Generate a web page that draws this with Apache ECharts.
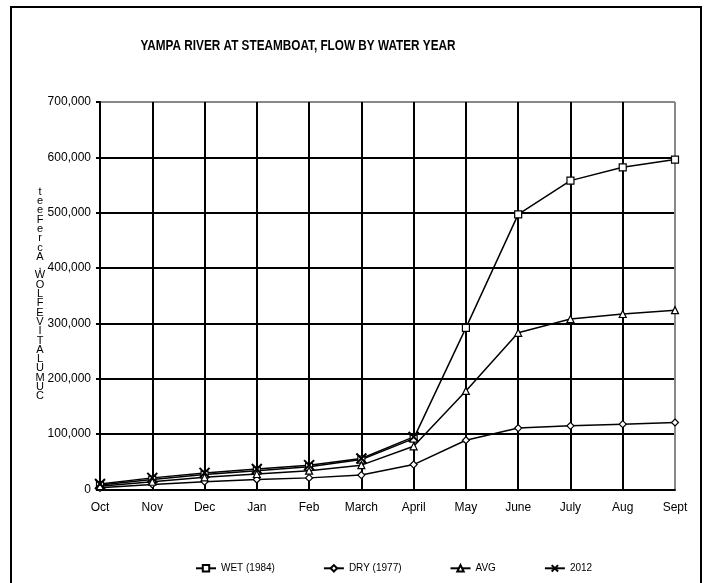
<!DOCTYPE html>
<html><head><meta charset="utf-8">
<script src="https://cdn.jsdelivr.net/npm/echarts@6/dist/echarts.min.js"></script>
<style>html,body{margin:0;padding:0;background:#fff}#c{width:710px;height:583px}</style>
</head><body><div id="c"></div>
<script>
const categories = ['Oct','Nov','Dec','Jan','Feb','March','April','May','June','July','Aug','Sept'];
const wet1984 = [8000,18000,27000,34000,41000,54000,92000,292000,497000,558000,582000,596000];
const dry1977 = [3000,9000,14000,18000,21000,26000,45000,89000,111000,115000,118000,121000];
const avg = [6000,14000,22000,28000,34000,44000,78000,178000,283000,308000,317000,324000];
const y2012 = [10000,21000,30000,37000,44000,56000,95000];
const yTicks = [0,100000,200000,300000,400000,500000,600000,700000];
const titleText = 'YAMPA RIVER AT STEAMBOAT, FLOW BY WATER YEAR';
const yTitle = 'CUMULATIVE FLOW, Acre Feet';

const chart = echarts.init(document.getElementById('c'));
const font = '"Liberation Sans", Arial, sans-serif';
const lineBase = {type:'line', symbolSize:7, lineStyle:{color:'#000', width:1.5},
  itemStyle:{color:'#fff', borderColor:'#000', borderWidth:1.2}, animation:false};
const fmt = v => v === 0 ? '0' : v.toLocaleString('en-US');
const ySplitColors = yTicks.map((v,i)=> i===yTicks.length-1 ? '#888' : '#000');
const xSplitColors = categories.map((c,i)=> i===categories.length-1 ? '#888' : '#000');

chart.setOption({
  backgroundColor:'#fff',
  animation:false,
  grid:{left:100, right:35, top:102, bottom:93.5},
  legend:{bottom:4, left:190, itemGap:48, itemWidth:20, itemHeight:8,
    textStyle:{fontFamily:font, fontSize:10, color:'#000'},
    data:['WET (1984)','DRY (1977)','AVG','2012']},
  xAxis:{type:'category', data:categories, boundaryGap:false,
    axisLine:{lineStyle:{color:'#000', width:2}},
    axisTick:{show:false},
    axisLabel:{color:'#000', fontFamily:font, fontSize:12, margin:12},
    splitLine:{show:true, lineStyle:{color:xSplitColors, width:2}}},
  yAxis:{type:'value', min:yTicks[0], max:yTicks[yTicks.length-1], interval:100000,
    axisLine:{show:true, lineStyle:{color:'#000', width:2}},
    axisTick:{show:true, length:4, lineStyle:{color:'#000', width:2}},
    axisLabel:{color:'#000', fontFamily:font, fontSize:12, margin:9, formatter:fmt},
    splitLine:{show:true, lineStyle:{color:ySplitColors, width:2}}},
  graphic:[
    {type:'rect', shape:{x:11, y:7, width:690, height:590}, style:{fill:'none', stroke:'#000', lineWidth:2}, z:-1},
    {type:'text', x:298, y:46, scaleX:0.84, style:{text:titleText, fontFamily:font, fontWeight:'bold', fontSize:14,
      textAlign:'center', textVerticalAlign:'middle', fill:'#000'}},
    {type:'text', x:40, y:294, style:{text:yTitle.replace(/ /g,'').split('').reverse().join('\n'), fontFamily:font, fontSize:11,
      lineHeight:9.3, textAlign:'center', textVerticalAlign:'middle', fill:'#000'}}
  ],
  series:[
    Object.assign({}, lineBase, {name:'WET (1984)', data:wet1984, symbol:'rect', symbolSize:7}),
    Object.assign({}, lineBase, {name:'DRY (1977)', data:dry1977, symbol:'diamond', symbolSize:7}),
    Object.assign({}, lineBase, {name:'AVG', data:avg, symbol:'triangle', symbolSize:7}),
    Object.assign({}, lineBase, {name:'2012', data:y2012, symbol:'path://M0,0L10,10M0,10L10,0', symbolSize:10,
      itemStyle:{color:'none', borderColor:'#000', borderWidth:2}})
  ]
});
</script></body></html>
